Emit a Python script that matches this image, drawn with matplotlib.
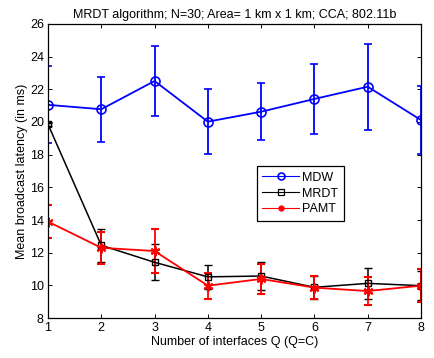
import matplotlib
matplotlib.use("Agg")
import matplotlib.pyplot as plt
from matplotlib.lines import Line2D

# --------------------------------------
# Data
# --------------------------------------
q = [1, 2, 3, 4, 5, 6, 7, 8]

mdw = [21.05, 20.78, 22.51, 20.02, 20.63, 21.41, 22.16, 20.12]
mdw_err = [2.35, 2.0, 2.14, 1.97, 1.76, 2.17, 2.63, 2.07]

mrdt = [19.86, 12.45, 11.41, 10.52, 10.57, 9.88, 10.12, 9.98]
mrdt_err = [0.1, 1.0, 1.1, 0.73, 0.85, 0.72, 0.95, 0.9]

pamt = [13.9, 12.3, 12.1, 9.98, 10.39, 9.86, 9.65, 9.98]
pamt_err = [1.02, 0.98, 1.33, 0.8, 0.9, 0.7, 0.85, 1.0]

plt.rcParams['font.family'] = ['Liberation Sans', 'DejaVu Sans']
plt.rcParams['font.size'] = 9

fig = plt.figure(figsize=(4.34, 3.58), dpi=100)
ax = fig.add_axes([0.1106, 0.1117, 0.8594, 0.8213])

ax.errorbar(q, mdw, yerr=mdw_err, color='blue', linewidth=1.3,
            marker='o', markersize=6.5, markerfacecolor='none',
            markeredgewidth=1.2, capsize=3, elinewidth=1.3, capthick=1.3)
ax.errorbar(q, mrdt, yerr=mrdt_err, color='black', linewidth=1.1,
            marker='s', markersize=5, markerfacecolor='none',
            markeredgewidth=1.0, capsize=3, elinewidth=1.1, capthick=1.1)
ax.errorbar(q, pamt, yerr=pamt_err, color='red', linewidth=1.3,
            marker=(6, 2, 0), markersize=7, markeredgewidth=1.5,
            capsize=3, elinewidth=1.3, capthick=1.3)

ax.set_xlim(1, 8)
ax.set_ylim(8, 26)
ax.set_xticks(q)
ax.set_yticks(range(8, 27, 2))
ax.tick_params(direction='in', top=True, right=True, length=3, width=0.7, pad=3)
for s in ax.spines.values():
    s.set_linewidth(0.9)

ax.set_title("MRDT algorithm; N=30; Area= 1 km x 1 km; CCA; 802.11b", fontsize=9, pad=4)
ax.set_xlabel("Number of interfaces Q (Q=C)", labelpad=1)
ax.set_ylabel("Mean broadcast latency (in ms)", labelpad=1)

handles = [
    Line2D([], [], color='blue', linewidth=0.8, marker='o', markersize=5,
           markerfacecolor='none', markeredgewidth=1.2),
    Line2D([], [], color='black', linewidth=0.8, marker='s', markersize=4,
           markerfacecolor='none', markeredgewidth=0.9),
    Line2D([], [], color='red', linewidth=0.8, marker='.', markersize=7),
]
leg = ax.legend(handles, ['MDW', 'MRDT', 'PAMT'], loc='lower left',
                bbox_to_anchor=(0.56, 0.33), fancybox=False, framealpha=1,
                edgecolor='black', handlelength=2.9, borderpad=0.45,
                labelspacing=0.3, handletextpad=0.3, fontsize=9,
                borderaxespad=0)
leg.get_frame().set_linewidth(0.9)

fig.savefig("out.png", dpi=100)
